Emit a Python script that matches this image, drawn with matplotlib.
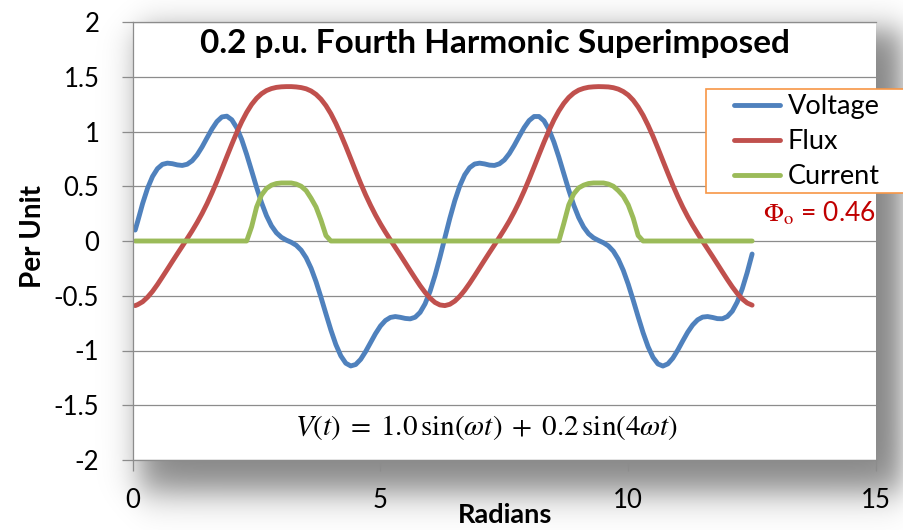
import numpy as np
import matplotlib
matplotlib.use("Agg")
import matplotlib.pyplot as plt
from matplotlib.patches import Rectangle
from matplotlib.ticker import FuncFormatter

plt.rcParams['font.family'] = ['Lato', 'DejaVu Sans']
plt.rcParams['mathtext.fontset'] = 'stix'

# ---------------- data ----------------
radians = [0.05] + [round(0.1 * k, 1) for k in range(1, 126)]

voltage = [0.10,
    0.178, 0.342, 0.482, 0.589, 0.661, 0.700, 0.711, 0.706, 0.695, 0.690,
    0.701, 0.733, 0.787, 0.859, 0.942, 1.023, 1.091, 1.133, 1.140, 1.107,
    1.034, 0.926, 0.790, 0.641, 0.490, 0.350, 0.231, 0.139, 0.075, 0.034,
    0.008, -0.012, -0.039, -0.084, -0.153, -0.249, -0.372, -0.515, -0.666, -0.814,
    -0.946, -1.049, -1.116, -1.141, -1.128, -1.081, -1.010, -0.928, -0.846, -0.776,
    -0.726, -0.698, -0.690, -0.697, -0.707, -0.711, -0.696, -0.652, -0.574, -0.461,
    -0.316, -0.149, 0.030, 0.207, 0.368, 0.503, 0.604, 0.670, 0.703, 0.711,
    0.704, 0.693, 0.690, 0.705, 0.740, 0.798, 0.873, 0.956, 1.036, 1.100,
    1.137, 1.137, 1.098, 1.018, 0.904, 0.766, 0.615, 0.465, 0.328, 0.214,
    0.127, 0.066, 0.029, 0.005, -0.016, -0.045, -0.093, -0.167, -0.268, -0.395,
    -0.540, -0.692, -0.838, -0.965, -1.063, -1.123, -1.142, -1.122, -1.070, -0.996,
    -0.913, -0.833, -0.767, -0.720, -0.695, -0.690, -0.698, -0.709, -0.710, -0.690,
    -0.641, -0.557, -0.438, -0.289, -0.119]

flux = [-0.59,
    -0.581, -0.555, -0.513, -0.460, -0.397, -0.328, -0.258, -0.187, -0.117, -0.048,
    0.022, 0.093, 0.169, 0.251, 0.341, 0.440, 0.545, 0.657, 0.771, 0.883,
    0.991, 1.089, 1.175, 1.247, 1.303, 1.345, 1.374, 1.392, 1.403, 1.408,
    1.410, 1.410, 1.407, 1.401, 1.390, 1.370, 1.339, 1.295, 1.236, 1.162,
    1.073, 0.973, 0.865, 0.752, 0.638, 0.527, 0.422, 0.326, 0.237, 0.156,
    0.081, 0.010, -0.059, -0.128, -0.199, -0.270, -0.340, -0.408, -0.469, -0.521,
    -0.561, -0.584, -0.590, -0.578, -0.549, -0.505, -0.450, -0.386, -0.317, -0.246,
    -0.175, -0.105, -0.036, 0.034, 0.106, 0.182, 0.266, 0.357, 0.457, 0.564,
    0.676, 0.790, 0.902, 1.008, 1.105, 1.188, 1.257, 1.311, 1.351, 1.378,
    1.394, 1.404, 1.408, 1.410, 1.409, 1.407, 1.400, 1.387, 1.365, 1.333,
    1.286, 1.224, 1.148, 1.057, 0.956, 0.846, 0.732, 0.619, 0.509, 0.406,
    0.310, 0.223, 0.143, 0.069, -0.002, -0.071, -0.140, -0.211, -0.282, -0.352,
    -0.419, -0.479, -0.529, -0.566, -0.586]

hump1 = [0.13, 0.31, 0.42, 0.48, 0.51, 0.525, 0.53, 0.53,
         0.53, 0.52, 0.50, 0.46, 0.39, 0.31, 0.19, 0.05]
hump2 = [0.16, 0.33, 0.43, 0.485, 0.51, 0.525, 0.53, 0.53,
         0.53, 0.52, 0.50, 0.46, 0.41, 0.33, 0.21, 0.05]
current = [0.0] * 24 + hump1 + [0.0] * 47 + hump2 + [0.0] * 23

series_names = ["Voltage", "Flux", "Current"]
series_colors = ["#4F81BD", "#C0504D", "#9BBB59"]
title = "0.2 p.u. Fourth Harmonic Superimposed"
equation = r"$V(t)\;=\;1.0\,\sin(\omega t)\;+\;0.2\,\sin(4\omega t)$"
phi_label = r"$\Phi_{\mathrm{o}}$ = 0.46"
x_ticks = [0, 5, 10, 15]
y_ticks = [-2, -1.5, -1, -0.5, 0, 0.5, 1, 1.5, 2]

# ---------------- figure ----------------
W, H = 904, 530
fig = plt.figure(figsize=(W / 100, H / 100), dpi=100)
fig.patch.set_facecolor("white")

# soft drop shadow behind the plot area
bg = fig.add_axes([0, 0, 1, 1], zorder=-5)
bg.set_axis_off()
xx = np.arange(W) + 0.5
yy = np.arange(H) + 0.5
def S(z):
    return 1.0 / (1.0 + np.exp(-1.7 * z))
sx = S((xx - 140) / 16.0) * S((902 - xx) / 14.0)
sy = S((yy - 30) / 16.0) * S((492 - yy) / 18.0)
rgba = np.zeros((H, W, 4))
rgba[..., 3] = 0.48 * np.outer(sy, sx)
bg.imshow(rgba, extent=(0, W, H, 0), aspect="auto", interpolation="bilinear")
bg.set_xlim(0, W)
bg.set_ylim(H, 0)

x0, x1, y0, y1 = 132.7, 876.0, 22.0, 460.0
ax = fig.add_axes([x0 / W, (H - y1) / H, (x1 - x0) / W, (y1 - y0) / H], zorder=1)
ax.set_facecolor("white")

gray = "#8c8c8c"
for xs, ys, name, col in zip([radians] * 3, [voltage, flux, current], series_names, series_colors):
    ax.plot(xs, ys, color=col, lw=3.5, label=name,
            solid_capstyle="round", solid_joinstyle="round")

ax.set_xlim(0, 15)
ax.set_ylim(-2, 2)
ax.set_xticks(x_ticks)
ax.set_yticks(y_ticks)
fmt = FuncFormatter(lambda v, p: "%g" % v)
ax.xaxis.set_major_formatter(fmt)
ax.yaxis.set_major_formatter(fmt)
ax.yaxis.grid(True, color=gray, lw=0.9)
ax.set_axisbelow(True)
for s in ["left", "bottom", "top"]:
    ax.spines[s].set_color(gray)
    ax.spines[s].set_linewidth(0.9)
ax.spines["right"].set_visible(False)
ax.tick_params(axis="both", direction="out", length=8, width=0.9, color=gray,
               labelsize=18.5, labelcolor="black")
ax.tick_params(axis="y", pad=16)
ax.tick_params(axis="x", pad=12)

# title, equation and flux offset label
ax.text((495 - x0) / (x1 - x0), (y1 - 53.5) / (y1 - y0), title, transform=ax.transAxes,
        ha="center", va="baseline", fontsize=24, fontweight="bold")
ax.text((487 - x0) / (x1 - x0), (y1 - 435) / (y1 - y0), equation, transform=ax.transAxes,
        ha="center", va="baseline", fontsize=21)
ax.text((876 - x0) / (x1 - x0), (y1 - 221.7) / (y1 - y0), phi_label, transform=ax.transAxes,
        ha="right", va="baseline", fontsize=19, color="#C00000")

# axis labels
fig.text(33 / W, 1 - 237 / H, "Per Unit", rotation=90, ha="center", va="center",
         fontsize=20, fontweight="bold")
fig.text(505 / W, 1 - 523 / H, "Radians", ha="center", va="baseline",
         fontsize=19.5, fontweight="bold")

# legend with orange box
box = Rectangle((706 / W, 1 - 193.3 / H), (915 - 706) / W, (193.3 - 89.3) / H,
                transform=fig.transFigure, facecolor="white", edgecolor="#F79646",
                lw=1.2, zorder=4, clip_on=False)
ax.add_patch(box)
leg = ax.legend(loc="center left", bbox_to_anchor=(734 / W, 1 - 141.7 / H),
                bbox_transform=fig.transFigure, frameon=False, fontsize=19.5,
                handlelength=1.7, handletextpad=0.28, labelspacing=0.37,
                borderpad=0, borderaxespad=0)
leg.set_zorder(6)

fig.savefig("out.png", dpi=100)
